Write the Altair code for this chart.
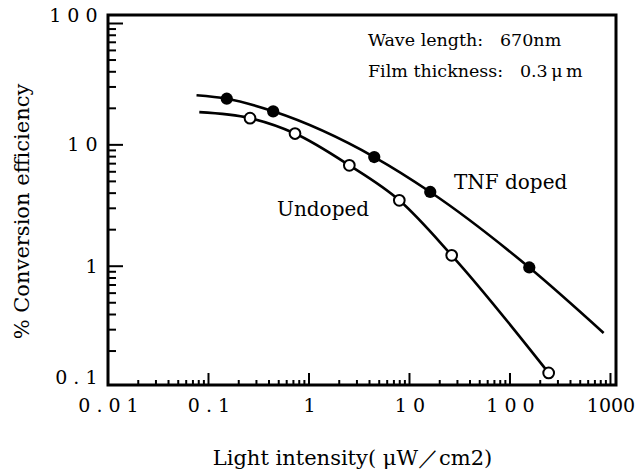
import altair as alt
import pandas as pd

# ---- data ----
tnf_x = [0.152, 0.44, 4.46, 16.1, 155.6]
tnf_y = [24.0, 18.9, 7.94, 4.09, 0.976]
tnf_curve_x = [0.076, 0.152, 0.44, 4.46, 16.1, 155.6, 855]
tnf_curve_y = [25.6, 24.0, 18.9, 7.94, 4.09, 0.976, 0.282]

und_x = [0.259, 0.726, 2.52, 7.92, 26.3, 242.6]
und_y = [16.6, 12.4, 6.78, 3.49, 1.23, 0.132]
und_curve_x = [0.081, 0.259, 0.726, 2.52, 7.92, 26.3, 242.6]
und_curve_y = [18.6, 16.6, 12.4, 6.78, 3.49, 1.23, 0.132]

x_label_values = [0.01, 0.1, 1, 10, 100, 1000]
y_label_values = [0.105, 1, 10, 100]
x_major = [0.1, 1, 10, 100, 1000]
y_major = [1, 10, 100]
x_decades = [0.01, 0.1, 1, 10, 100]
y_decades = [0.1, 1, 10]
minor_mult = [2, 3, 4, 5, 6, 7, 8, 9]

NB = "\u00a0"
TH = "\u2009"
box_text = ["Wave length:" + NB * 3 + "670nm",
            "Film thickness:" + NB * 3 + "0.3" + TH + "\u03bc" + TH + "m"]
box_x = [3.86, 3.86]
box_y = [72.4, 39.5]
curve_text = ["TNF doped", "Undoped"]
curve_text_x = [27.7, 0.481]
curve_text_y = [4.82, 2.89]

# ---- tables ----
curves = pd.DataFrame({
    "series": ["TNF doped"] * len(tnf_curve_x) + ["Undoped"] * len(und_curve_x),
    "x": tnf_curve_x + und_curve_x,
    "y": tnf_curve_y + und_curve_y,
})
tnf_pts = pd.DataFrame({"x": tnf_x, "y": tnf_y})
und_pts = pd.DataFrame({"x": und_x, "y": und_y})
box_df = pd.DataFrame({"x": box_x, "y": box_y, "label": box_text})
curve_lab_df = pd.DataFrame({"x": curve_text_x, "y": curve_text_y, "label": curve_text})

x_minor = [d * m for d in x_decades for m in minor_mult]
y_minor = [d * m for d in y_decades for m in minor_mult]
xmaj_df = pd.DataFrame({"x": x_major})
xmin_df = pd.DataFrame({"x": x_minor})
ymaj_df = pd.DataFrame({"y": y_major})
ymin_df = pd.DataFrame({"y": y_minor})

FONT = "DejaVu Serif"
W, H = 508, 370

xs = alt.Scale(type="log", domain=[0.01, 1135], nice=False)
ys = alt.Scale(type="log", domain=[0.105, 117.5], nice=False)

x_axis = alt.Axis(
    title="Light intensity( \u03bcW\uff0fcm2)",
    values=x_label_values,
    labelExpr="datum.value < 0.05 ? '0 . 0 1' : datum.value < 0.5 ? '0 . 1' : datum.value < 5 ? '1' : datum.value < 50 ? '1 0' : datum.value < 500 ? '1 0 0' : '1000'",
    ticks=False, domain=False, grid=False,
    labelFont=FONT, labelFontSize=19, labelColor="black", labelPadding=11,
    labelFlush=False, labelOverlap=False,
    titleFont=FONT, titleFontSize=21, titleFontWeight="normal", titleColor="black",
    titleX=244, titleY=73, titleBaseline="middle", titleAlign="center",
)
y_axis = alt.Axis(
    title="% Conversion efficiency",
    values=y_label_values,
    labelExpr="datum.value < 0.5 ? '0 . 1' : datum.value < 5 ? '1' : datum.value < 50 ? '1 0' : '1 0 0'",
    ticks=False, domain=False, grid=False,
    labelFont=FONT, labelFontSize=19, labelColor="black", labelPadding=11,
    labelFlush=False, labelOverlap=False,
    labelOffset={"condition": {"test": "datum.value < 0.5 || datum.value > 50", "value": -8}, "value": 0},
    titleFont=FONT, titleFontSize=21, titleFontWeight="normal", titleColor="black",
    titleX=-86, titleY=196, titleBaseline="middle", titleAlign="center", titleAngle=270,
)

def X(f="x"):
    return alt.X(f, type="quantitative", scale=xs, axis=x_axis)

def Y(f="y"):
    return alt.Y(f, type="quantitative", scale=ys, axis=y_axis)

lines = alt.Chart(curves).mark_line(
    interpolate="monotone", color="black", strokeWidth=2.6
).encode(x=X(), y=Y(), detail="series:N")

tnf_marks = alt.Chart(tnf_pts).mark_point(
    shape="circle", filled=True, color="black", size=150, opacity=1
).encode(x=X(), y=Y())

und_marks = alt.Chart(und_pts).mark_point(
    shape="circle", filled=True, fill="white", stroke="black", strokeWidth=2,
    size=115, opacity=1
).encode(x=X(), y=Y())

box_texts = alt.Chart(box_df).mark_text(
    align="left", baseline="middle", font=FONT, fontSize=17.5, color="black"
).encode(x=X(), y=Y(), text="label:N")

curve_texts = alt.Chart(curve_lab_df).mark_text(
    align="left", baseline="middle", font=FONT, fontSize=20, color="black"
).encode(x=X(), y=Y(), text="label:N")

ymaj = alt.Chart(ymaj_df).mark_rule(color="black", strokeWidth=2).encode(
    y=Y(), x=alt.value(0), x2=alt.value(15))
ymin = alt.Chart(ymin_df).mark_rule(color="black", strokeWidth=2).encode(
    y=Y(), x=alt.value(0), x2=alt.value(8))
xmaj = alt.Chart(xmaj_df).mark_rule(color="black", strokeWidth=2).encode(
    x=X(), y=alt.value(H), y2=alt.value(H - 12))
xmin = alt.Chart(xmin_df).mark_rule(color="black", strokeWidth=2).encode(
    x=X(), y=alt.value(H), y2=alt.value(H - 5))

chart = alt.layer(ymaj, ymin, xmaj, xmin, lines, tnf_marks, und_marks,
                  box_texts, curve_texts).properties(
    width=W, height=H,
    padding={"left": 108, "top": 15, "right": 26, "bottom": 85},
    autosize=alt.AutoSizeParams(type="none"),
    background="white",
).configure_view(stroke="black", strokeWidth=3)

chart.save("out.html", embed_options={"renderer": "svg", "actions": False})
